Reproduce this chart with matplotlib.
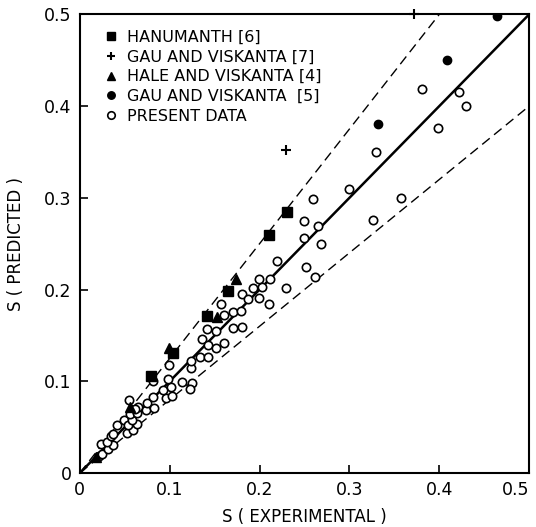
import numpy as np
import matplotlib.pyplot as plt

# Hanumanth [6]
han_x = [0.079, 0.104, 0.141, 0.165, 0.210, 0.231]
han_y = [0.106, 0.131, 0.171, 0.199, 0.259, 0.285]

# Gau and Viskanta [7]
gv7_x = [0.230, 0.372]
gv7_y = [0.352, 0.500]

# Hale and Viskanta [4]
hv_x = [0.018, 0.056, 0.099, 0.153, 0.174]
hv_y = [0.017, 0.072, 0.136, 0.170, 0.211]

# Gau and Viskanta [5]
gv5_x = [0.332, 0.409, 0.464]
gv5_y = [0.381, 0.450, 0.498]

# present data
pd_x = [0.021, 0.025, 0.031, 0.024, 0.037, 0.030, 0.035, 0.037, 0.052, 0.059,
        0.041, 0.049, 0.054, 0.064, 0.058, 0.056, 0.064, 0.065, 0.061, 0.055,
        0.074, 0.075, 0.082, 0.081, 0.081, 0.096, 0.103, 0.093, 0.102, 0.098,
        0.099, 0.114, 0.125, 0.123, 0.124, 0.124, 0.134, 0.143, 0.136, 0.143,
        0.152, 0.160, 0.141, 0.151, 0.171, 0.180, 0.171, 0.179, 0.157, 0.160,
        0.181, 0.187, 0.199, 0.210, 0.193, 0.203, 0.199, 0.212, 0.229, 0.262,
        0.219, 0.252, 0.250, 0.268, 0.265, 0.250, 0.260, 0.300, 0.326, 0.358,
        0.330, 0.399, 0.381, 0.422, 0.430]
pd_y = [0.018, 0.021, 0.026, 0.032, 0.031, 0.034, 0.040, 0.043, 0.044, 0.047,
        0.052, 0.058, 0.052, 0.053, 0.058, 0.064, 0.065, 0.072, 0.070, 0.080,
        0.069, 0.076, 0.071, 0.083, 0.100, 0.082, 0.084, 0.090, 0.094, 0.102,
        0.118, 0.099, 0.098, 0.092, 0.114, 0.122, 0.126, 0.126, 0.146, 0.140,
        0.136, 0.142, 0.157, 0.155, 0.158, 0.159, 0.176, 0.177, 0.184, 0.172,
        0.195, 0.190, 0.191, 0.184, 0.202, 0.203, 0.211, 0.211, 0.202, 0.214,
        0.231, 0.225, 0.256, 0.250, 0.269, 0.275, 0.299, 0.310, 0.276, 0.300,
        0.350, 0.376, 0.419, 0.416, 0.400]

legend_labels = ["HANUMANTH [6]", "GAU AND VISKANTA [7]", "HALE AND VISKANTA [4]",
                 "GAU AND VISKANTA  [5]", "PRESENT DATA"]
tick_labels = ['0', '0.1', '0.2', '0.3', '0.4', '0.5']

plt.rcParams['font.family'] = ['DejaVu Sans']

fig = plt.figure(figsize=(5.36, 5.27), dpi=100)
ax = fig.add_axes([0.149, 0.1025, 0.838, 0.870])

# reference lines: perfect agreement and +25% / -20%
xx = np.array([0, 0.5])
ax.plot(xx, xx, color='black', lw=1.8)
ax.plot(xx, 1.25 * xx, color='black', lw=1.0, dashes=(7, 4))
ax.plot(xx, 0.8 * xx, color='black', lw=1.0, dashes=(7, 4))

ax.plot(pd_x, pd_y, 'o', mfc='white', mec='black', mew=1.2, ms=6, ls='none',
        label=legend_labels[4], zorder=3)
ax.plot(han_x, han_y, 's', color='black', ms=6.5, ls='none', label=legend_labels[0], zorder=4)
ax.plot(gv7_x, gv7_y, '+', color='black', ms=6.5, mew=1.5, ls='none', label=legend_labels[1],
        zorder=4, clip_on=False)
ax.plot(hv_x, hv_y, '^', color='black', ms=7, ls='none', label=legend_labels[2], zorder=4)
ax.plot(gv5_x, gv5_y, 'o', color='black', ms=6, ls='none', label=legend_labels[3], zorder=4)

ax.set_xlim(0, 0.5)
ax.set_ylim(0, 0.5)
ax.set_xticks([0, 0.1, 0.2, 0.3, 0.4, 0.5])
ax.set_yticks([0, 0.1, 0.2, 0.3, 0.4, 0.5])
ax.set_xticklabels(tick_labels)
ax.set_yticklabels(tick_labels)
ax.tick_params(direction='in', length=6, width=1.2, labelsize=12.5, pad=6)
ax.get_xticklabels()[-1].set_horizontalalignment('right')
ax.get_xticklabels()[-1].set_x(0.502)
for s in ax.spines.values():
    s.set_linewidth(1.5)

ax.set_xlabel('S ( EXPERIMENTAL )', fontsize=12, labelpad=6)
ax.set_ylabel('S ( PREDICTED )', fontsize=12, labelpad=14)

handles, labels = ax.get_legend_handles_labels()
order = [1, 2, 3, 4, 0]
ax.legend([handles[i] for i in order], [labels[i] for i in order],
          loc='upper left', bbox_to_anchor=(0.02, 0.995), frameon=False,
          fontsize=11.5, handletextpad=0.4, handlelength=1.2, labelspacing=0.3,
          borderaxespad=0.4, markerscale=0.9)

plt.savefig('out.png', dpi=100)
